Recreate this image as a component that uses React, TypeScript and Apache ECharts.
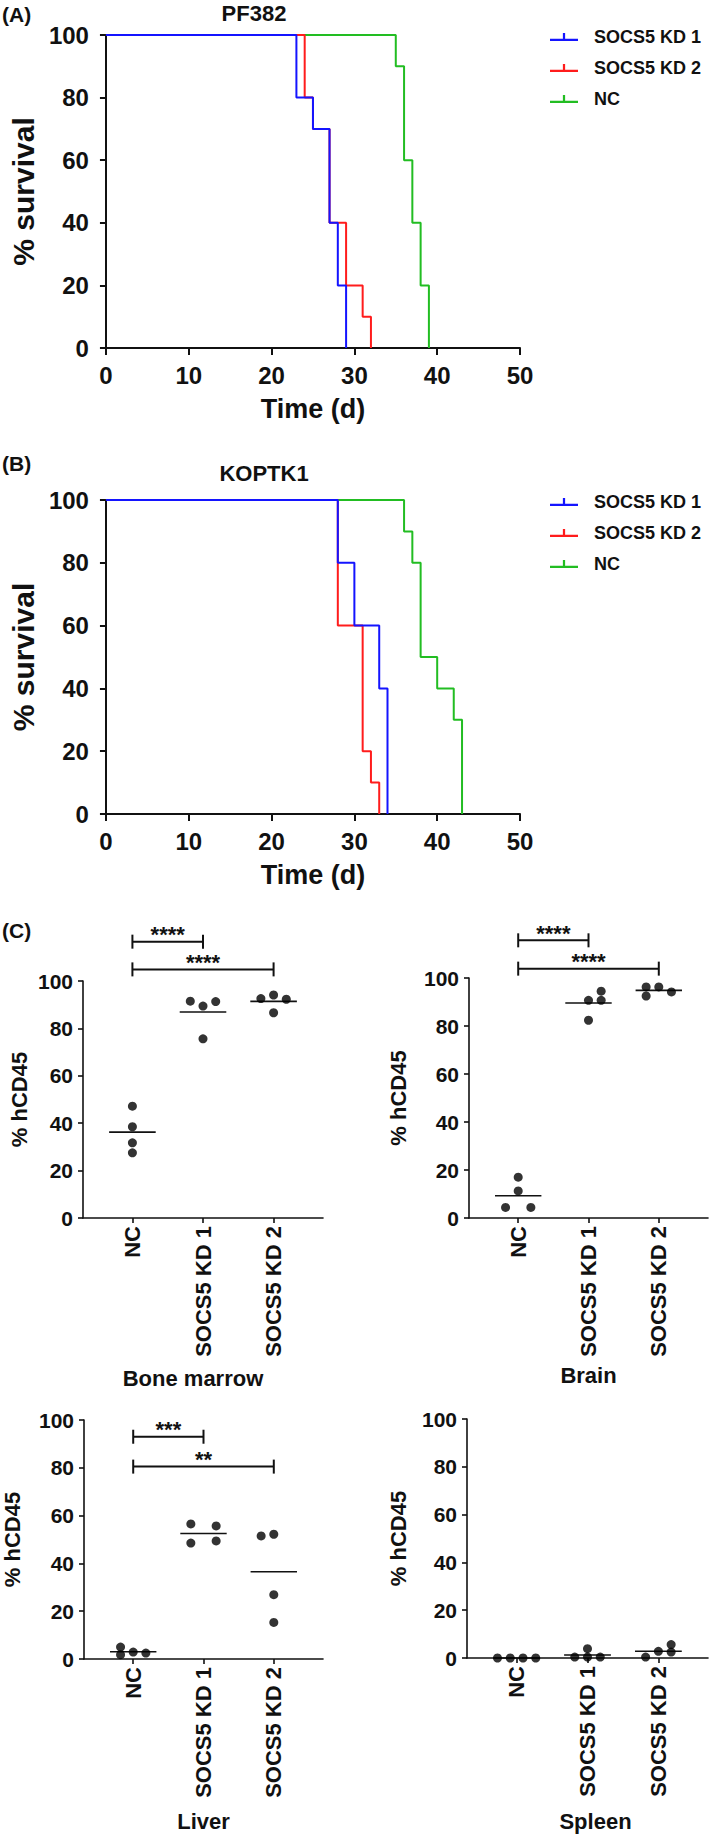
import React, { useEffect, useRef } from 'react';
import * as echarts from 'echarts';

const FONT = "'Liberation Sans', Arial, Helvetica, sans-serif";
const INK = '#111111';

// ---------- Survival panels ----------
const survivalNames = ['SOCS5 KD 1', 'SOCS5 KD 2', 'NC'];
const survivalColors = ['#1414ff', '#ff1c1c', '#22bd22'];

// (A) PF382: day of each event and % survival after it
const pfKd1Days = [0, 23, 25, 27, 28, 29];
const pfKd1Pct = [100, 80, 70, 40, 20, 0];
const pfKd2Days = [0, 24, 25, 27, 29, 31, 32];
const pfKd2Pct = [100, 80, 70, 40, 20, 10, 0];
const pfNcDays = [0, 35, 36, 37, 38, 39];
const pfNcPct = [100, 90, 60, 40, 20, 0];

// (B) KOPTK1
const koKd1Days = [0, 28, 30, 33, 34];
const koKd1Pct = [100, 80, 60, 40, 0];
const koKd2Days = [0, 28, 31, 32, 33];
const koKd2Pct = [100, 60, 20, 10, 0];
const koNcDays = [0, 36, 37, 38, 40, 42, 43];
const koNcPct = [100, 90, 80, 50, 40, 30, 0];

// ---------- hCD45 panels ----------
const hcdCategories = ['NC', 'SOCS5 KD 1', 'SOCS5 KD 2'];

const bmValues = [[47.2, 38.5, 31.7, 27.5], [91.5, 89.4, 91.3, 75.6], [92.6, 94.1, 92.3, 86.6]];
const bmSlots = [[0, 0, 0, 0], [-1, 0, 1, 0], [-1, 0, 1, 0]];
const bmBrackets = [[1, 2, 116.6], [1, 3, 104.9]];
const bmStars = ['****', '****'];

const brainValues = [[17.0, 11.3, 4.4, 4.4], [90.7, 90.7, 94.5, 82.4], [96.3, 92.5, 96.3, 94.2]];
const brainSlots = [[0, 0, -1, 1], [0, 1, 1, 0], [-1, -1, 0, 1]];
const brainBrackets = [[1, 2, 115.7], [1, 3, 103.9]];
const brainStars = ['****', '****'];

const liverValues = [[5.0, 1.8, 2.9, 2.5], [56.5, 48.5, 55.7, 49.4], [51.5, 52.2, 26.9, 15.3]];
const liverSlots = [[-1, -1, 0, 1], [-1, -1, 1, 1], [-1, 0, 0, 0]];
const liverBrackets = [[1, 2, 93.0], [1, 3, 80.5]];
const liverStars = ['***', '**'];

const spleenValues = [[0, 0, 0, 0], [0.4, 3.9, 0.4, 0.4], [0.4, 2.8, 5.6, 2.5]];
const spleenSlots = [[-1.5, -0.5, 0.5, 1.5], [-1, 0, 0, 1], [-1, 0, 1, 1]];
const spleenBrackets: number[][] = [];
const spleenStars: string[] = [];

const SLOT = 0.18;
const MEAN_HALF = 0.33;

const mean = (a: number[]) => a.reduce((s, v) => s + v, 0) / a.length;

const axisLine = { show: true, lineStyle: { color: INK, width: 2 } };

function survivalSeries(idx: number, days: number[][], pcts: number[][]) {
  // draw order: NC (bottom), KD 2, KD 1 (top)
  const order = [2, 1, 0];
  return order.map((g) => ({
    type: 'line',
    name: survivalNames[g],
    xAxisIndex: idx,
    yAxisIndex: idx,
    step: 'end',
    showSymbol: false,
    symbol: 'none',
    clip: false,
    data: days[g].map((d, i) => [d, pcts[g][i]]),
    lineStyle: { color: survivalColors[g], width: 2 },
    itemStyle: { color: survivalColors[g] },
    z: 3 + (2 - g),
  }));
}

function organSeries(idx: number, values: number[][], slots: number[][], brackets: number[][], stars: string[]) {
  const pts: number[][] = [];
  values.forEach((vals, g) => vals.forEach((v, i) => pts.push([g + 1 + slots[g][i] * SLOT, v])));
  const list: any[] = [
    {
      type: 'scatter',
      xAxisIndex: idx,
      yAxisIndex: idx,
      symbol: 'circle',
      symbolSize: 9,
      clip: false,
      itemStyle: { color: '#000' },
      data: pts,
      z: 4,
    },
    {
      type: 'custom',
      xAxisIndex: idx,
      yAxisIndex: idx,
      clip: false,
      silent: true,
      encode: { x: 0, y: 1 },
      data: values.map((vals, g) => [g + 1, mean(vals)]),
      renderItem: (_p: any, api: any) => {
        const l = api.coord([api.value(0) - MEAN_HALF, api.value(1)]);
        const r = api.coord([api.value(0) + MEAN_HALF, api.value(1)]);
        return { type: 'line', shape: { x1: l[0], y1: l[1], x2: r[0], y2: r[1] }, style: { stroke: INK, lineWidth: 1.6 } };
      },
      z: 3,
    },
  ];
  if (brackets.length) {
    list.push({
      type: 'custom',
      xAxisIndex: idx,
      yAxisIndex: idx,
      clip: false,
      silent: true,
      encode: { x: [0, 1], y: 2 },
      data: brackets,
      renderItem: (p: any, api: any) => {
        const a = api.coord([api.value(0), api.value(2)]);
        const b = api.coord([api.value(1), api.value(2)]);
        const st = { stroke: INK, lineWidth: 2 };
        return {
          type: 'group',
          children: [
            { type: 'line', shape: { x1: a[0], y1: a[1], x2: b[0], y2: b[1] }, style: st },
            { type: 'line', shape: { x1: a[0], y1: a[1] - 7, x2: a[0], y2: a[1] + 7 }, style: st },
            { type: 'line', shape: { x1: b[0], y1: b[1] - 7, x2: b[0], y2: b[1] + 7 }, style: st },
            {
              type: 'text',
              x: (a[0] + b[0]) / 2,
              y: a[1] - 7,
              style: {
                text: stars[p.dataIndex],
                align: 'center',
                verticalAlign: 'middle',
                fontSize: 22,
                fontWeight: 'bold',
                fontFamily: FONT,
                fill: INK,
              },
            },
          ],
        };
      },
      z: 3,
    });
  }
  return list;
}

function survivalAxes(idx: number) {
  return {
    x: {
      type: 'value',
      gridIndex: idx,
      min: 0,
      max: 50,
      interval: 10,
      axisLine,
      axisTick: { show: true, length: 7, lineStyle: { color: INK, width: 2 } },
      axisLabel: { fontSize: 24, fontWeight: 'bold', color: INK, fontFamily: FONT, margin: 15 },
      splitLine: { show: false },
      name: 'Time (d)',
      nameLocation: 'middle',
      nameGap: 47,
      nameTextStyle: { fontSize: 27, fontWeight: 'bold', color: INK, fontFamily: FONT },
    },
    y: {
      type: 'value',
      gridIndex: idx,
      min: 0,
      max: 100,
      interval: 20,
      axisLine,
      axisTick: { show: true, length: 6, lineStyle: { color: INK, width: 2 } },
      axisLabel: { fontSize: 24, fontWeight: 'bold', color: INK, fontFamily: FONT, margin: 17 },
      splitLine: { show: false },
      name: '% survival',
      nameLocation: 'middle',
      nameRotate: 90,
      nameGap: 61,
      nameTextStyle: { fontSize: 30, fontWeight: 'bold', color: INK, fontFamily: FONT },
    },
  };
}

function organAxes(idx: number, organ: string, xNameGap: number, yNameGap: number, nameShift: number) {
  return {
    x: {
      type: 'value',
      gridIndex: idx,
      min: 0.3,
      max: 3.7,
      axisLine: { show: true, lineStyle: { color: INK, width: 1.6 } },
      axisTick: { show: true, length: 5, customValues: [1, 2, 3], lineStyle: { color: INK, width: 1.6 } },
      axisLabel: {
        customValues: [1, 2, 3],
        formatter: (v: number) => hcdCategories[Math.round(v) - 1] ?? '',
        rotate: 90,
        margin: 8,
        fontSize: 22,
        fontWeight: 'bold',
        color: INK,
        fontFamily: FONT,
      },
      splitLine: { show: false },
      name: organ,
      nameLocation: 'middle',
      nameGap: xNameGap,
      nameTextStyle: {
        fontSize: 22,
        fontWeight: 'bold',
        color: INK,
        fontFamily: FONT,
        padding: nameShift >= 0 ? [0, 0, 0, 2 * nameShift] : [0, -2 * nameShift, 0, 0],
      },
    },
    y: {
      type: 'value',
      gridIndex: idx,
      min: 0,
      max: 100,
      interval: 20,
      axisLine: { show: true, lineStyle: { color: INK, width: 1.6 } },
      axisTick: { show: true, length: 5, lineStyle: { color: INK, width: 1.6 } },
      axisLabel: { fontSize: 21, fontWeight: 'bold', color: INK, fontFamily: FONT, margin: 10 },
      splitLine: { show: false },
      name: '% hCD45',
      nameLocation: 'middle',
      nameRotate: 90,
      nameGap: yNameGap,
      nameTextStyle: { fontSize: 22, fontWeight: 'bold', color: INK, fontFamily: FONT },
    },
  };
}

function legendFor(top: number) {
  return {
    data: survivalNames,
    orient: 'vertical',
    left: 545,
    top,
    itemWidth: 28,
    itemHeight: 9,
    itemGap: 11,
    selectedMode: false,
    icon: 'path://M0,8H30V10.5H0Z M13.8,2H16.2V8H13.8Z',
    textStyle: { fontSize: 18, fontWeight: 'bold', color: INK, fontFamily: FONT, lineHeight: 20, padding: [0, 0, 0, 11] },
  };
}

function buildOption() {
  const aAx = survivalAxes(0);
  const bAx = survivalAxes(1);
  const bm = organAxes(2, 'Bone marrow', 149, 53, -10);
  const br = organAxes(3, 'Brain', 146, 60, 0);
  const li = organAxes(4, 'Liver', 151, 61, 0);
  const sp = organAxes(5, 'Spleen', 152, 58, 8);
  const titleText = (text: string, x: number, y: number, align = 'left', size = 21) => ({
    type: 'text',
    x,
    y,
    style: { text, align, verticalAlign: 'middle', fontSize: size, fontWeight: 'bold', fontFamily: FONT, fill: INK },
  });
  return {
    animation: false,
    backgroundColor: '#ffffff',
    grid: [
      { left: 104, top: 35, width: 416, height: 313 },
      { left: 104, top: 500, width: 416, height: 314 },
      { left: 83, top: 981, width: 240, height: 237 },
      { left: 469, top: 978, width: 239, height: 240 },
      { left: 82, top: 1420, width: 241, height: 239 },
      { left: 467, top: 1419, width: 241, height: 239 },
    ],
    xAxis: [aAx.x, bAx.x, bm.x, br.x, li.x, sp.x],
    yAxis: [aAx.y, bAx.y, bm.y, br.y, li.y, sp.y],
    legend: [legendFor(22), legendFor(487)],
    graphic: [
      titleText('(A)', 2, 14),
      titleText('PF382', 254, 13, 'center', 22),
      titleText('(B)', 2, 463),
      titleText('KOPTK1', 264, 473, 'center', 22),
      titleText('(C)', 2, 930),
    ],
    series: [
      ...survivalSeries(0, [pfKd1Days, pfKd2Days, pfNcDays], [pfKd1Pct, pfKd2Pct, pfNcPct]),
      ...survivalSeries(1, [koKd1Days, koKd2Days, koNcDays], [koKd1Pct, koKd2Pct, koNcPct]),
      ...organSeries(2, bmValues, bmSlots, bmBrackets, bmStars),
      ...organSeries(3, brainValues, brainSlots, brainBrackets, brainStars),
      ...organSeries(4, liverValues, liverSlots, liverBrackets, liverStars),
      ...organSeries(5, spleenValues, spleenSlots, spleenBrackets, spleenStars),
    ],
  };
}

export default function App() {
  const ref = useRef<HTMLDivElement>(null);
  useEffect(() => {
    if (!ref.current) return;
    const chart = echarts.init(ref.current, null, { renderer: 'svg' });
    chart.setOption(buildOption() as any);
    return () => chart.dispose();
  }, []);
  return (
    <div
      ref={ref}
      style={{ position: 'absolute', left: 0, top: 0, width: 709, height: 1835, background: '#ffffff' }}
    />
  );
}
